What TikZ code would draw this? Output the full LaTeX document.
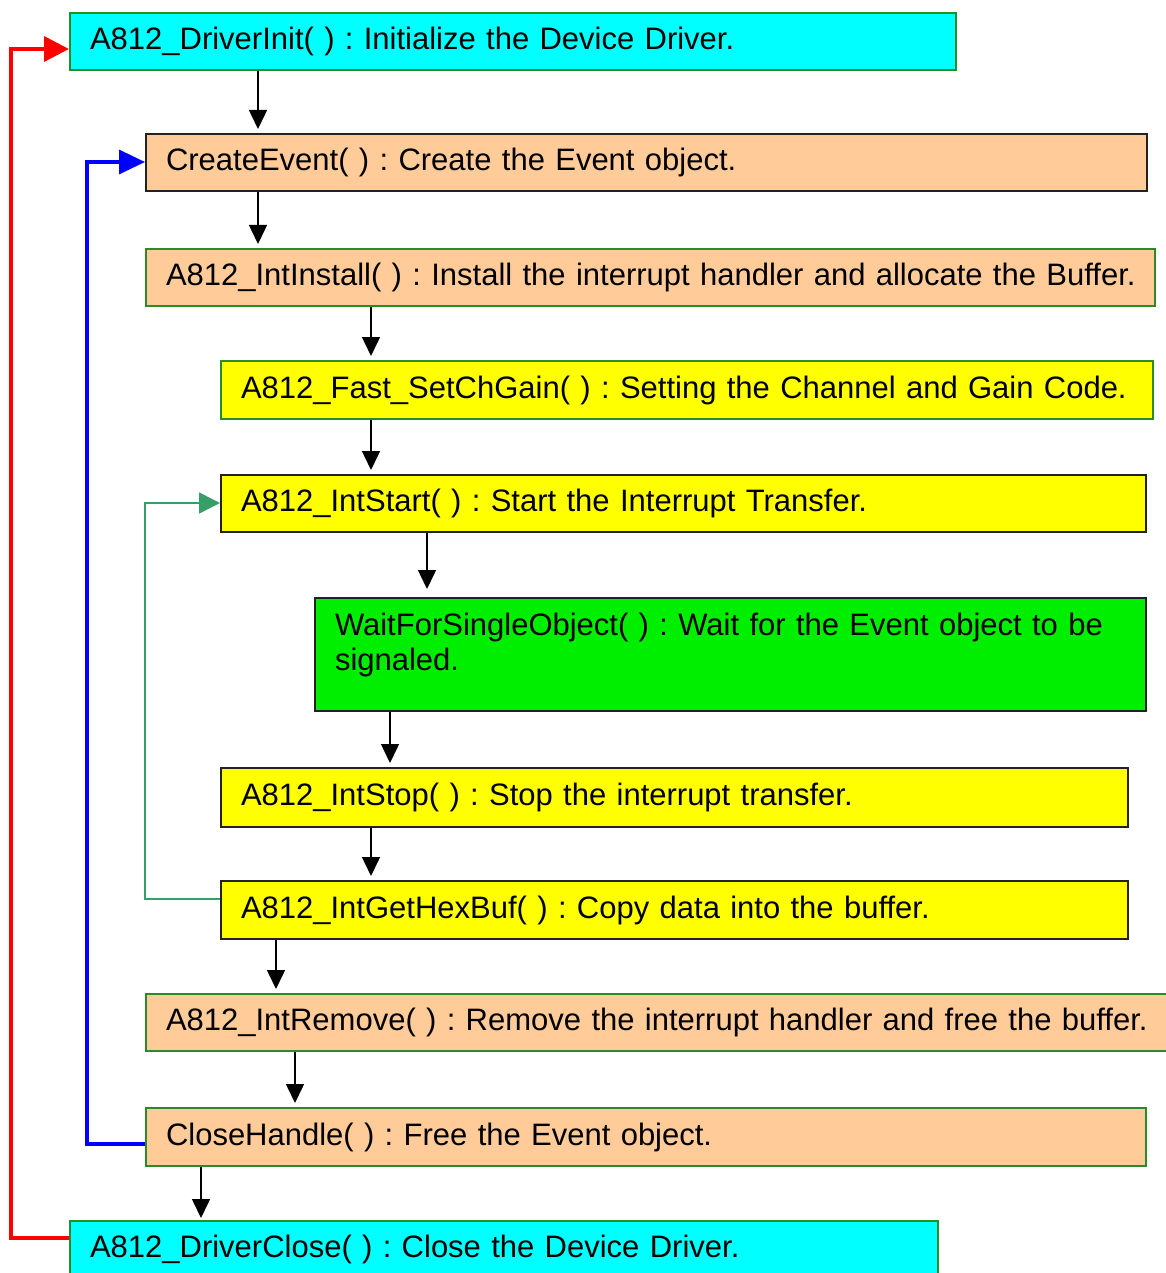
\documentclass[tikz,border=0pt]{standalone}
\usepackage{fontspec}
\setmainfont{Liberation Sans}
\usetikzlibrary{arrows.meta}
\definecolor{cyanbox}{RGB}{0,255,255}
\definecolor{peach}{RGB}{255,204,153}
\definecolor{yellowbox}{RGB}{255,255,0}
\definecolor{greenbox}{RGB}{0,238,0}
\definecolor{greenedge}{RGB}{40,140,40}
\definecolor{darkedge}{RGB}{34,34,34}
\definecolor{teal}{RGB}{56,158,104}
\begin{document}
\frenchspacing
\begin{tikzpicture}[x=1pt,y=-1pt,
  box/.style args={#1/#2}{draw, line width=2pt, anchor=north west,
    inner xsep=20pt, inner ysep=0pt, align=left,
    text width=#1pt-40pt, minimum height=#2pt,
    font=\fontsize{31}{35}\selectfont\frenchspacing},
  gedge/.style={draw=greenedge},
  dedge/.style={draw=darkedge},
  arr/.style={line width=1.5pt, -{Triangle[width=18pt,length=19pt]}, shorten >=4pt},
  loopred/.style={draw=red, line width=3.5pt, -{Triangle[width=25pt,length=25pt]}},
  loopblue/.style={draw=blue, line width=3.5pt, -{Triangle[width=24pt,length=26pt]}},
  loopteal/.style={draw=teal, line width=1.6pt, -{Triangle[width=21pt,length=21pt]}}]
\useasboundingbox (0,0) rectangle (1165,1273);

% boxes of the call sequence
\node[box=886/57, gedge, fill=cyanbox] (init) at (69,12) {\mbox{A812\_DriverInit( ) : Initialize the Device Driver.}};
\node[box=1001/57, dedge, fill=peach] (cev) at (145,133) {\mbox{CreateEvent( ) : Create the Event object.}};
\node[box=1009/57, gedge, fill=peach] (inst) at (145,248) {\mbox{A812\_IntInstall( ) : Install the interrupt handler and allocate the Buffer.}};
\node[box=932/58, gedge, fill=yellowbox] (gain) at (220,360) {\mbox{A812\_Fast\_SetChGain( ) : Setting the Channel and Gain Code.}};
\node[box=925/57, dedge, fill=yellowbox] (start) at (220,474) {\mbox{A812\_IntStart( ) : Start the Interrupt Transfer.}};
\node[box=831/113, dedge, fill=greenbox, text depth=60pt] (wait) at (314,597) {WaitForSingleObject( ) : Wait for the Event object to be\\signaled.};
\node[box=907/59, dedge, fill=yellowbox] (stop) at (220,767) {\mbox{A812\_IntStop( ) : Stop the interrupt transfer.}};
\node[box=907/58, dedge, fill=yellowbox] (hex) at (220,880) {\mbox{A812\_IntGetHexBuf( ) : Copy data into the buffer.}};
\node[box=1030/57, gedge, fill=peach] (rem) at (145,993) {\mbox{A812\_IntRemove( ) : Remove the interrupt handler and free the buffer.}};
\node[box=1000/58, gedge, fill=peach] (close) at (145,1107) {\mbox{CloseHandle( ) : Free the Event object.}};
\node[box=868/57, gedge, fill=cyanbox] (dclose) at (69,1220) {\mbox{A812\_DriverClose( ) : Close the Device Driver.}};

% forward connectors
\draw[arr] (258,0 |- init.south) -- (258,0 |- cev.north);
\draw[arr] (258,0 |- cev.south) -- (258,0 |- inst.north);
\draw[arr] (371,0 |- inst.south) -- (371,0 |- gain.north);
\draw[arr] (371,0 |- gain.south) -- (371,0 |- start.north);
\draw[arr, shorten >=8pt] (427,0 |- start.south) -- (427,0 |- wait.north);
\draw[arr] (390,0 |- wait.south) -- (390,0 |- stop.north);
\draw[arr] (371,0 |- stop.south) -- (371,0 |- hex.north);
\draw[arr] (276,0 |- hex.south) -- (276,0 |- rem.north);
\draw[arr] (295,0 |- rem.south) -- (295,0 |- close.north);
\draw[arr, shorten >=2pt] (201,0 |- close.south) -- (201,0 |- dclose.north);

% return loops
\draw[loopred] (dclose.west |- 0,1238) -- (11,1238) -- (11,49) -- (init.west |- 0,49);
\draw[loopblue] (close.west |- 0,1144) -- (87,1144) -- (87,162) -- (cev.west |- 0,162);
\draw[loopteal] (hex.west |- 0,899) -- (145,899) -- (145,503) -- (start.west |- 0,503);
\end{tikzpicture}
\end{document}
